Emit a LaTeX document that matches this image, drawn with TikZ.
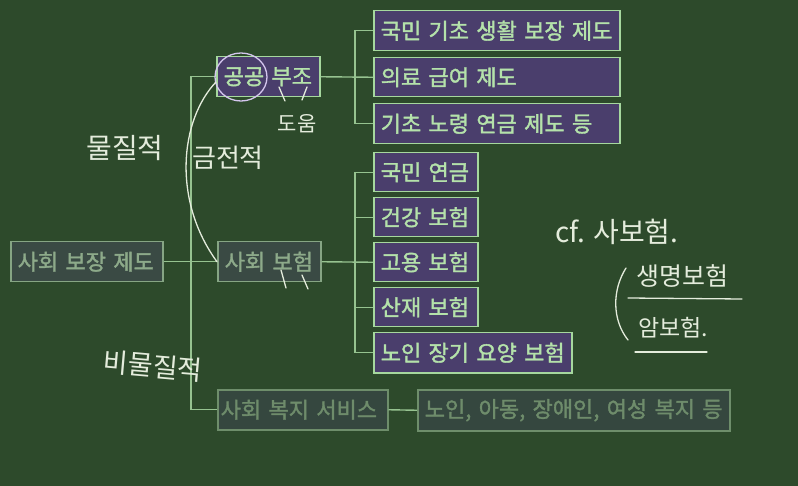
\documentclass[tikz,border=0pt]{standalone}
\usepackage{fontspec}
\newfontfamily\kr{Noto Sans CJK KR}
\newfontfamily\krb{Noto Sans CJK KR}[FakeBold=1.6]
\definecolor{board}{HTML}{2D4A2B}
\definecolor{pfill}{HTML}{4A3E6C}
\definecolor{pline}{HTML}{A6D89E}
\definecolor{ptext}{HTML}{B4E2AA}
\definecolor{gfill}{HTML}{3A4A44}
\definecolor{gline}{HTML}{86A584}
\definecolor{gtext}{HTML}{8DAA8A}
\definecolor{ffill}{HTML}{35473F}
\definecolor{fline}{HTML}{6E8E6B}
\definecolor{ftext}{HTML}{6E8C6B}
\definecolor{conn}{HTML}{96C390}
\definecolor{chalk}{HTML}{E4ECDC}
\definecolor{lav}{HTML}{D4C6EE}
\tikzset{
  x=1pt, y=-1pt,
  base/.style={line width=1.5pt, minimum height=40pt, inner xsep=7pt, inner ysep=0pt,
    anchor=north west, align=left, font=\krb\fontsize{22}{24}\selectfont},
  pbox/.style={base, draw=pline, fill=pfill, text=ptext},
  gbox/.style={base, draw=gline, fill=gfill, text=gtext},
  fbox/.style={base, draw=fline, fill=ffill, text=ftext},
  link/.style={draw=conn, line width=1.4pt},
  chalkline/.style={draw=chalk, line width=1.3pt, line cap=round},
  hand/.style={text=chalk, inner sep=0pt, font=\kr\fontsize{24}{26}\selectfont},
}
\begin{document}
\begin{tikzpicture}
\fill[board] (0,0) rectangle (798,486);
\useasboundingbox (0,0) rectangle (798,486);
% boxes
\node[gbox, text width=138pt] (root) at (10,241) {사회 보장 제도};
\node[pbox, text width=89pt] (gb) at (216,56) {공공 부조};
\node[gbox, text width=89pt] (si) at (217,241) {사회 보험};
\node[fbox, inner xsep=3pt, text width=164pt] (sw) at (217,389) {사회 복지 서비스};
\node[fbox, text width=298pt, minimum height=41pt] (swc) at (417,389) {노인, 아동, 장애인, 여성 복지 등};
\node[pbox, text width=232pt] (g1) at (373,10) {국민 기초 생활 보장 제도};
\node[pbox, text width=232pt, minimum height=39pt] (g2) at (373,57) {의료 급여 제도};
\node[pbox, text width=232pt] (g3) at (373,103) {기초 노령 연금 제도 등};
\node[pbox, text width=90pt, minimum height=39pt] (s1) at (373,152) {국민 연금};
\node[pbox, text width=90pt, minimum height=39pt] (s2) at (373,197) {건강 보험};
\node[pbox, text width=90pt, minimum height=39pt] (s3) at (373,242) {고용 보험};
\node[pbox, text width=90pt, minimum height=39pt] (s4) at (373,287) {산재 보험};
\node[pbox, text width=184pt] (s5) at (373,332) {노인 장기 요양 보험};
% connectors
\coordinate (j1) at (191,261);
\coordinate (j2) at (355,77);
\coordinate (j3) at (355,262);
\draw[link] (root.east) -- (si.west);
\draw[link] (gb.west) -| (j1) |- (sw.west);
\draw[link] (gb.east) -- (g2.west);
\draw[link] (g1.west) -| (j2) |- (g3.west);
\draw[link] (si.east) -- (s3.west);
\draw[link] (s1.west) -| (j3) |- (s5.west);
\draw[link] (s2.west) -- (j3 |- s2.west);
\draw[link] (s4.west) -- (j3 |- s4.west);
\draw[link] (sw.east) -- (swc.west);
% chalk annotations
\draw[draw=lav, line width=1.3pt] (241,77) ellipse [x radius=26, y radius=24];
\draw[chalkline] (216,82) .. controls (180,120) and (172,200) .. (si.west);
\draw[chalkline] (279,87) -- (285,101);
\draw[chalkline] (307,87) -- (302,100);
\draw[chalkline] (281,270) -- (286,288);
\draw[chalkline] (302,275) -- (308,289);
\node[hand, font=\kr\fontsize{21}{23}\selectfont] (n1) at (297,124) {도움};
\node[hand, font=\kr\fontsize{28}{30}\selectfont] (n2) at (125,148) {물질적};
\node[hand, font=\kr\fontsize{26}{28}\selectfont] (n3) at (228,158) {금전적};
\node[hand, font=\kr\fontsize{27}{29}\selectfont, rotate=-5] (n4) at (153,366) {비물질적};
\node[hand, font=\kr\fontsize{28}{30}\selectfont] (n5) at (617,232) {cf. 사보험.};
\node[hand, font=\kr\fontsize{25}{27}\selectfont] (n6) at (682,276) {생명보험};
\node[hand, font=\kr\fontsize{23}{25}\selectfont] (n7) at (673,328) {암보험.};
\draw[chalkline] (628,298) -- (742,299);
\draw[chalkline] (635,352) -- (707,352);
\draw[chalkline] (626,268) .. controls (612,290) and (612,320) .. (628,340);
\end{tikzpicture}
\end{document}
